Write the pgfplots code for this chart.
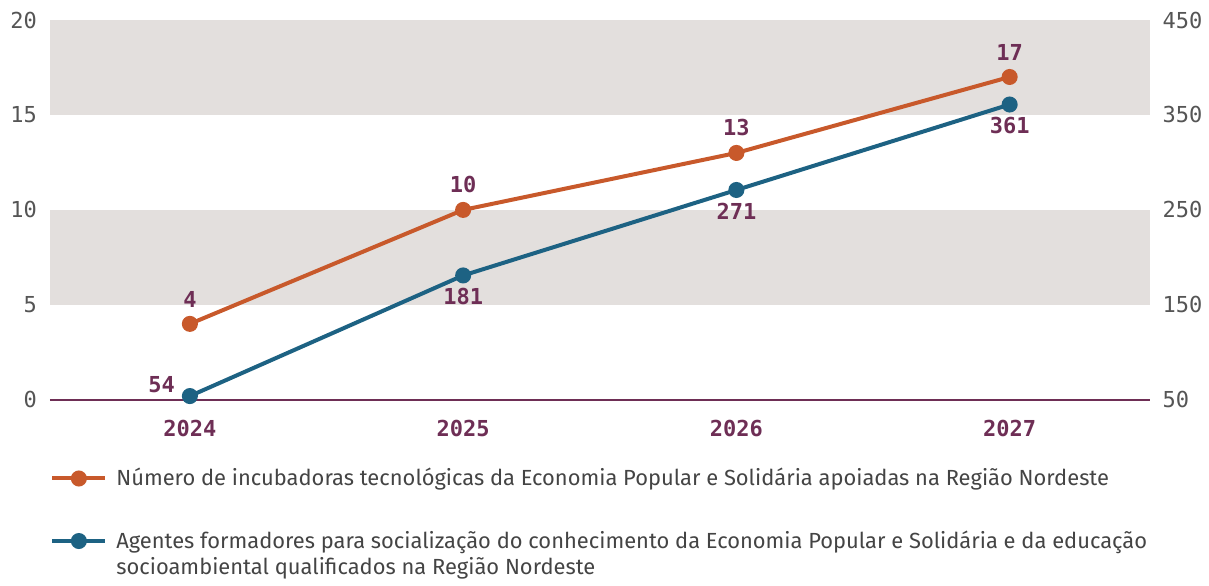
\documentclass[border=0pt]{standalone}
\usepackage{fontspec}
\setmainfont{Fira Sans}
\newfontfamily\monofont{DejaVu Sans Mono}
\usepackage{pgfplots}
\pgfplotsset{compat=1.18}
\definecolor{orangeS}{HTML}{C8592B}
\definecolor{blueS}{HTML}{1D6283}
\definecolor{band}{HTML}{E3DFDD}
\definecolor{maroonS}{HTML}{6E2E55}
\definecolor{tickgray}{HTML}{555555}
\definecolor{leggray}{HTML}{444444}
\begin{document}
\begin{tikzpicture}
\pgfplotsset{
  common/.style={
    at={(0,0)}, anchor=south west,
    scale only axis, width=550pt, height=190pt,
    xmin=-0.512, xmax=3.512,
    axis line style={draw=none},
    major tick length=0pt,
    clip=false,
    yticklabel style={font=\monofont\fontsize{11}{13}\selectfont, text=tickgray},
    /pgf/number format/assume math mode=true,
    every node near coord/.append style={font=\monofont\bfseries\fontsize{11}{13}\selectfont, text=maroonS},
  }
}
\begin{axis}[common,
  ymin=0, ymax=20,
  axis y line*=left, axis x line*=bottom,
  ytick={0,5,10,15,20},
  xtick={0,1,2,3}, xticklabels={2024,2025,2026,2027},
  xticklabel style={font=\monofont\bfseries\fontsize{11}{13}\selectfont, text=maroonS, yshift=-6.5pt},
  yticklabel style={xshift=-3pt},
  legend style={at={(0,0)}, anchor=north west, xshift=-3pt, yshift=-30pt,
    draw=none, fill=none, font=\fontsize{10.95}{13}\selectfont, text=leggray,
    row sep=17pt, column sep=2.5pt, nodes={align=left}},
  legend cell align=left,
  legend image code/.code={\draw[mark repeat=2,mark phase=2] plot coordinates {(0pt,0pt)(13.25pt,0pt)(26.5pt,0pt)};},
]
\fill[band] (axis cs:-0.512,5) rectangle (axis cs:3.512,10);
\fill[band] (axis cs:-0.512,15) rectangle (axis cs:3.512,20);
\draw[maroonS, line width=1pt] (axis cs:-0.512,0) -- (axis cs:3.512,0);
\addplot[orangeS, line width=2pt, mark=*, mark size=3pt,
  nodes near coords, every node near coord/.append style={anchor=south, yshift=4pt}]
  coordinates {(0,4) (1,10) (2,13) (3,17)};
\addlegendentry{Número de incubadoras tecnológicas da Economia Popular e Solidária apoiadas na Região Nordeste}
\addlegendimage{blueS, line width=2pt, mark=*, mark size=3pt, yshift=6.5pt}
\addlegendentry{Agentes formadores para socialização do conhecimento da Economia Popular e Solidária e da educação\\socioambiental qualificados na Região Nordeste}
\end{axis}
\begin{axis}[common,
  ymin=50, ymax=450,
  axis y line*=right, axis x line=none,
  ytick={50,150,250,350,450},
  yticklabel style={xshift=3pt},
]
\addplot[blueS, line width=2pt, mark=*, mark size=3pt]
  coordinates {(0,54) (1,181) (2,271) (3,361)};
\addplot[draw=none, mark=none, nodes near coords,
  every node near coord/.append style={anchor=north, yshift=-3pt}]
  coordinates {(1,181) (2,271) (3,361)};
\addplot[draw=none, mark=none, nodes near coords,
  every node near coord/.append style={anchor=south east, xshift=-4pt, yshift=-2pt}]
  coordinates {(0,54)};
\end{axis}
\path[use as bounding box] (-25pt,-88.5pt) rectangle (579.5pt,200pt);
\end{tikzpicture}
\end{document}
